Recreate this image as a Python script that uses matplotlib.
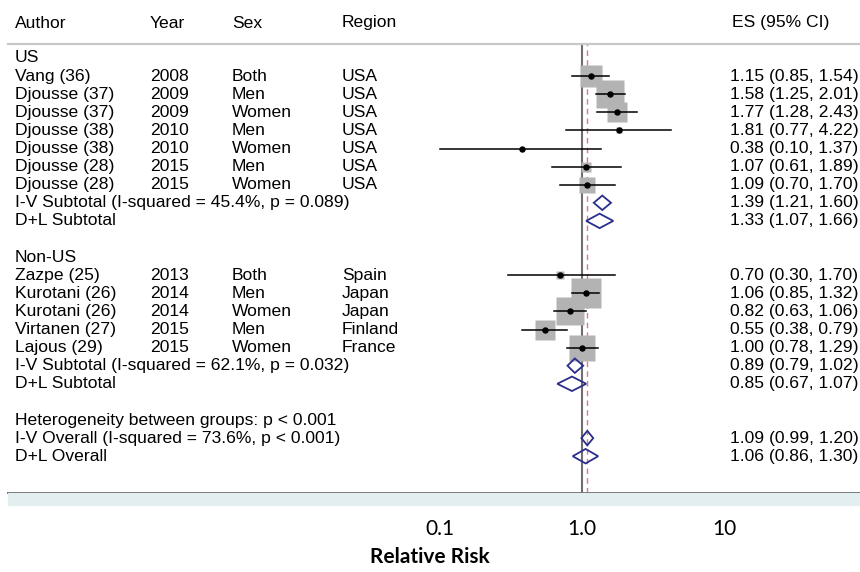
import matplotlib.pyplot as plt
import numpy as np
from matplotlib.patches import Rectangle

plt.rcParams['font.family'] = ['Liberation Sans', 'DejaVu Sans']

# study rows, per region group
us_author = ['Vang (36)', 'Djousse (37)', 'Djousse (37)', 'Djousse (38)', 'Djousse (38)', 'Djousse (28)', 'Djousse (28)']
us_year = ['2008', '2009', '2009', '2010', '2010', '2015', '2015']
us_sex = ['Both', 'Men', 'Women', 'Men', 'Women', 'Men', 'Women']
us_region = ['USA'] * 7
us_es = [1.15, 1.58, 1.77, 1.81, 0.38, 1.07, 1.09]
us_lo = [0.85, 1.25, 1.28, 0.77, 0.10, 0.61, 0.70]
us_hi = [1.54, 2.01, 2.43, 4.22, 1.37, 1.89, 1.70]
us_weight = [10.3, 16.1, 9.0, 0.9, 0.1, 2.4, 4.8]

non_author = ['Zazpe (25)', 'Kurotani (26)', 'Kurotani (26)', 'Virtanen (27)', 'Lajous (29)']
non_year = ['2013', '2014', '2014', '2015', '2015']
non_sex = ['Both', 'Men', 'Women', 'Men', 'Women']
non_region = ['Spain', 'Japan', 'Japan', 'Finland', 'France']
non_es = [0.70, 1.06, 0.82, 0.55, 1.00]
non_lo = [0.30, 0.85, 0.63, 0.38, 0.78]
non_hi = [1.70, 1.32, 1.06, 0.79, 1.29]
non_weight = [1.4, 18.0, 15.6, 7.7, 13.9]

# pooled estimates
us_pool_lab = ['I-V Subtotal (I-squared = 45.4%, p = 0.089)', 'D+L Subtotal']
us_pool_es = [1.39, 1.33]
us_pool_lo = [1.21, 1.07]
us_pool_hi = [1.60, 1.66]

non_pool_lab = ['I-V Subtotal (I-squared = 62.1%, p = 0.032)', 'D+L Subtotal']
non_pool_es = [0.89, 0.85]
non_pool_lo = [0.79, 0.67]
non_pool_hi = [1.02, 1.07]

het_text = 'Heterogeneity between groups: p < 0.001'
all_pool_lab = ['I-V Overall (I-squared = 73.6%, p < 0.001)', 'D+L Overall']
all_pool_es = [1.09, 1.06]
all_pool_lo = [0.99, 0.86]
all_pool_hi = [1.20, 1.30]

groups = [
    ('US', us_author, us_year, us_sex, us_region, us_es, us_lo, us_hi, us_weight,
     us_pool_lab, us_pool_es, us_pool_lo, us_pool_hi),
    ('Non-US', non_author, non_year, non_sex, non_region, non_es, non_lo, non_hi, non_weight,
     non_pool_lab, non_pool_es, non_pool_lo, non_pool_hi),
]

W, H = 860, 572
fig = plt.figure(figsize=(W / 100, H / 100), dpi=100)
# axes from header rule (y=44px) to axis line (y=493px)
ax = fig.add_axes([0, (H - 493) / H, 1, (493 - 44) / H])
ax.set_xscale('log')
ax.set_xlim(10 ** (-582 / 142), 10 ** ((W - 582) / 142))
row_px = 18.1
ax.set_ylim((493 - 58) / row_px, (44 - 58) / row_px)
for s in ax.spines.values():
    s.set_visible(False)
ax.set_yticks([])

fs = 12.6
tr = ax.get_yaxis_transform()
col_x = [15 / W, 150 / W, 232 / W, 342 / W]
es_x = 730 / W
sq_color = '#b3b3b3'
navy = '#2a2f8c'

ax.axvline(1, color='#6e6e6e', lw=1.5, zorder=1)
ax.axvline(all_pool_es[0], color='#e07a80', lw=1.0, ls=(0, (4, 3)), zorder=1)

# header
hy = (23 - 58) / row_px
for x, t in zip(col_x, ['Author', 'Year', 'Sex', 'Region']):
    ax.text(x, hy, t, transform=tr, fontsize=fs, va='center', clip_on=False)
ax.text(732 / W, hy, 'ES (95% CI)', transform=tr, fontsize=fs, va='center', clip_on=False)
ax.plot([8 / W, 1], [1, 1], transform=ax.transAxes, color='#c8c8c8', lw=1.6, clip_on=False)


def diamond(r, es, lo, hi):
    h = 0.4
    ax.fill([lo, es, hi, es, lo], [r, r - h, r, r + h, r], facecolor='none',
            edgecolor=navy, lw=1.3, zorder=4)
    ax.text(es_x, r, f'{es:.2f} ({lo:.2f}, {hi:.2f})', transform=tr, fontsize=fs, va='center')


r = 0
for name, au, yr, sx, rg, es, lo, hi, wt, plab, pes, plo, phi in groups:
    ax.text(col_x[0], r, name, transform=tr, fontsize=fs, va='center')
    r += 1
    for i in range(len(au)):
        for x, t in zip(col_x, [au[i], yr[i], sx[i], rg[i]]):
            ax.text(x, r, t, transform=tr, fontsize=fs, va='center')
        side = 6.85 * np.sqrt(wt[i]) * 0.72
        ax.plot(es[i], r, marker='s', ms=side, color=sq_color, mec='none', zorder=2)
        ax.plot([lo[i], hi[i]], [r, r], color='black', lw=1.1, zorder=3)
        ax.plot(es[i], r, marker='o', ms=3.6, color='black', zorder=3)
        ax.text(es_x, r, f'{es[i]:.2f} ({lo[i]:.2f}, {hi[i]:.2f})', transform=tr,
                fontsize=fs, va='center')
        r += 1
    for j in range(len(plab)):
        ax.text(col_x[0], r, plab[j], transform=tr, fontsize=fs, va='center')
        diamond(r, pes[j], plo[j], phi[j])
        r += 1
    r += 1

ax.text(col_x[0], r, het_text, transform=tr, fontsize=fs, va='center')
r += 1
for j in range(len(all_pool_lab)):
    ax.text(col_x[0], r, all_pool_lab[j], transform=tr, fontsize=fs, va='center')
    diamond(r, all_pool_es[j], all_pool_lo[j], all_pool_hi[j])
    r += 1

# bottom axis
fig.patches.append(Rectangle((8 / W, (H - 505) / H), 1 - 8 / W, 12 / H,
                             transform=fig.transFigure, color='#e3eef0', zorder=0))
ax.plot([8 / W, 1], [0, 0], transform=ax.transAxes, color='#555555', lw=1.3, clip_on=False)
ax.set_xticks([0.1, 1, 10])
ax.set_xticklabels(['0.1', '1.0', '10'], fontfamily='Lato', fontsize=15)
ax.xaxis.set_minor_locator(plt.NullLocator())
ax.tick_params(axis='x', direction='out', length=6.5, width=1.2, color='#444444', pad=12)
ax.set_xlabel('Relative Risk', fontfamily='Lato', fontsize=15, fontweight='bold', labelpad=6)

fig.savefig('out.png', dpi=100)
